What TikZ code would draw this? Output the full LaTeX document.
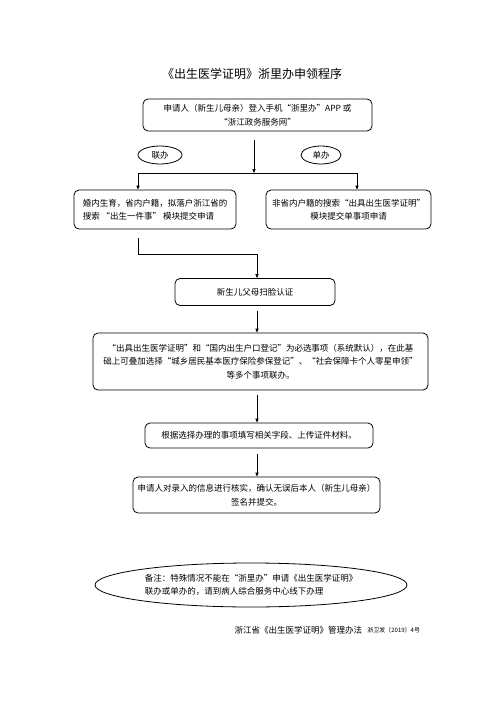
\documentclass[tikz,border=0pt]{standalone}
\usepackage{fontspec}
\setmainfont{Noto Sans CJK SC}
\usepackage{tikz}
\usetikzlibrary{arrows.meta,positioning,calc,shapes.geometric}
\tikzset{
  >={Triangle[length=4pt,width=3.2pt]},
  every picture/.append style={line width=0.8pt},
  every node/.append style={font=\fontsize{8.5}{13.5}\selectfont},
}
\tikzset{
  box/.style={draw, rounded corners=5pt, align=center, inner sep=2pt},
  tag/.style={draw, ellipse, inner sep=0pt},
  arrow/.style={->}
}

\begin{document}
\begin{tikzpicture}[x=1pt,y=-1pt]
\useasboundingbox (0,0) rectangle (500,707);
\node[font=\fontsize{12}{14}\selectfont] (title) at (252,74) {《出生医学证明》浙里办申领程序};

\node[box, minimum width=229pt, minimum height=32pt] (login) at (257.5,115)
  {申请人（新生儿母亲）登入手机“浙里办”APP 或\\“浙江政务服务网”};
\node[tag, minimum width=44pt, minimum height=18pt] (joint) at (160,155) {联办};
\node[tag, minimum width=40pt, minimum height=18pt] (single) at (321,155) {单办};

\node[box, align=left, minimum width=162pt, minimum height=39pt] (local) at (155,209.5)
  {婚内生育，省内户籍，拟落户浙江省的\\搜索 “出生一件事” 模块提交申请};
\node[box, minimum width=165pt, minimum height=39pt] (other) at (348.5,209.5)
  {非省内户籍的搜索“出具出生医学证明”\\模块提交单事项申请};

\node[box, minimum width=160pt, minimum height=27pt] (face) at (255,292) {新生儿父母扫脸认证};
\node[box, minimum width=335pt, minimum height=57pt] (items) at (260.5,361.5)
  {“出具出生医学证明”和“国内出生户口登记”为必选事项（系统默认），在此基\\
   础上可叠加选择“城乡居民基本医疗保险参保登记”、“社会保障卡个人零星申领”\\
   等多个事项联办。};
\node[box, minimum width=228pt, minimum height=25pt] (fill) at (259,435.5)
  {根据选择办理的事项填写相关字段、上传证件材料。};
\node[box, minimum width=247pt, minimum height=36pt] (sign) at (256.5,495)
  {申请人对录入的信息进行核实，确认无误后本人（新生儿母亲）\\签名并提交。};

\node[tag, align=left, minimum width=312pt, minimum height=44pt] (note) at (251,585)
  {备注：特殊情况不能在“浙里办”申请《出生医学证明》\\联办或单办的，请到病人综合服务中心线下办理};

\node[anchor=west] (law) at (231,630) {浙江省《出生医学证明》管理办法};
\node[anchor=west, font=\fontsize{6}{7}\selectfont, inner sep=1pt] (lawno) at (law.east) {浙卫发〔2019〕4号};

% connectors
\coordinate (split) at (254,173);
\coordinate (lbend) at (138,254);
\coordinate (merge) at (257,254);
\draw[arrow] ([yshift=-9pt]login.south -| split) -- (split);
\draw[arrow] (split) -| ([xshift=-17pt]local.north);
\draw[arrow] (split) -| ([xshift=8.5pt]other.north);
\draw[arrow] ([yshift=-9pt]local.south -| lbend) -- (lbend) -- (merge) -- (merge |- face.north);
\draw[arrow] ([yshift=-5pt]face.south -| merge) -- (merge |- items.north);
\draw[arrow] ([yshift=-5pt]items.south -| merge) -- (merge |- fill.north);
\draw[arrow] ([yshift=-6pt]fill.south -| merge) -- (merge |- sign.north);
\end{tikzpicture}
\end{document}
